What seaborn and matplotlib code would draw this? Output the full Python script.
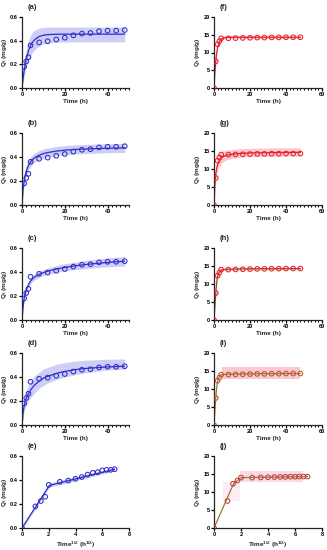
import numpy as np
import pandas as pd
import seaborn as sns
import matplotlib
matplotlib.use("Agg")
import matplotlib.pyplot as plt
from matplotlib.ticker import MultipleLocator

# ---------------- data ----------------
time_h = [0, 1, 2, 3, 4, 8, 12, 16, 20, 24, 28, 32, 36, 40, 44, 48]
sqrt_time = [0, 1.0, 1.41, 1.73, 2.0, 2.83, 3.46, 4.0, 4.47, 4.90, 5.29, 5.66, 6.0, 6.32, 6.63, 6.93]
q_blue = [0, 0.18, 0.225, 0.26, 0.36, 0.385, 0.395, 0.41, 0.425, 0.445, 0.46, 0.465, 0.48, 0.485, 0.485, 0.49]
q_red = [0, 7.5, 12.3, 13.2, 14.0, 14.0, 14.05, 14.1, 14.15, 14.2, 14.2, 14.25, 14.25, 14.3, 14.3, 14.3]

fit_t = [0, 0.5, 1, 1.5, 2, 3, 4, 5, 6, 8, 10, 12, 16, 20, 25, 30, 40, 48]

fit_a = [0, 0.080, 0.146, 0.201, 0.246, 0.314, 0.359, 0.389, 0.410, 0.435, 0.446, 0.451, 0.454, 0.455, 0.455, 0.455, 0.455, 0.455]
up_a = [0, 0.114, 0.203, 0.272, 0.325, 0.400, 0.445, 0.473, 0.489, 0.506, 0.512, 0.514, 0.515, 0.515, 0.515, 0.515, 0.515, 0.515]
lo_a = [0, 0.054, 0.101, 0.141, 0.176, 0.233, 0.273, 0.303, 0.325, 0.355, 0.371, 0.380, 0.387, 0.389, 0.390, 0.390, 0.390, 0.390]

fit_b = [0, 0.126, 0.200, 0.249, 0.284, 0.330, 0.360, 0.380, 0.395, 0.415, 0.428, 0.437, 0.449, 0.457, 0.463, 0.467, 0.473, 0.476]
up_b = [0, 0.150, 0.235, 0.290, 0.325, 0.370, 0.400, 0.420, 0.433, 0.453, 0.466, 0.475, 0.487, 0.495, 0.501, 0.505, 0.511, 0.514]
lo_b = [0, 0.100, 0.165, 0.210, 0.243, 0.290, 0.320, 0.340, 0.357, 0.377, 0.390, 0.399, 0.411, 0.419, 0.425, 0.429, 0.435, 0.438]

fit_c = [0, 0.110, 0.180, 0.220, 0.250, 0.295, 0.325, 0.345, 0.360, 0.380, 0.395, 0.407, 0.425, 0.438, 0.452, 0.463, 0.480, 0.490]
up_c = [0, 0.130, 0.205, 0.245, 0.275, 0.320, 0.350, 0.370, 0.385, 0.405, 0.420, 0.433, 0.453, 0.468, 0.484, 0.497, 0.517, 0.530]
lo_c = [0, 0.090, 0.155, 0.195, 0.225, 0.270, 0.300, 0.320, 0.335, 0.355, 0.370, 0.381, 0.397, 0.408, 0.420, 0.429, 0.443, 0.450]

fit_d = [0, 0.100, 0.160, 0.200, 0.225, 0.260, 0.290, 0.315, 0.335, 0.365, 0.390, 0.405, 0.430, 0.447, 0.462, 0.472, 0.484, 0.490]
up_d = [0, 0.140, 0.210, 0.260, 0.290, 0.330, 0.365, 0.390, 0.410, 0.440, 0.465, 0.480, 0.505, 0.520, 0.533, 0.540, 0.548, 0.550]
lo_d = [0, 0.060, 0.110, 0.145, 0.165, 0.200, 0.225, 0.250, 0.270, 0.305, 0.330, 0.350, 0.378, 0.400, 0.420, 0.435, 0.460, 0.465]

fit_e_x = [0, 2.05, 6.93]
fit_e_y = [0, 0.355, 0.49]
up_e = [0.015, 0.375, 0.505]
lo_e = [-0.015, 0.340, 0.475]

fit_f = [0, 4.5, 7.6, 9.9, 11.5, 13.1, 13.8, 14.05, 14.2, 14.28, 14.3, 14.3, 14.3, 14.3, 14.3, 14.3, 14.3, 14.3]
up_f = [0, 4.9, 8.1, 10.4, 12.0, 13.5, 14.2, 14.45, 14.55, 14.6, 14.6, 14.6, 14.6, 14.6, 14.6, 14.6, 14.6, 14.6]
lo_f = [0, 4.1, 7.1, 9.4, 11.0, 12.7, 13.4, 13.65, 13.85, 13.95, 14.0, 14.0, 14.0, 14.0, 14.0, 14.0, 14.0, 14.0]

fit_g = [0, 6.0, 8.7, 10.2, 11.2, 12.4, 13.0, 13.4, 13.65, 13.95, 14.1, 14.2, 14.35, 14.45, 14.5, 14.55, 14.6, 14.62]
up_g = [0, 8.0, 11.0, 12.5, 13.3, 14.3, 14.8, 15.0, 15.15, 15.3, 15.45, 15.55, 15.7, 15.75, 15.8, 15.85, 15.9, 15.9]
lo_g = [0, 4.2, 6.6, 8.2, 9.3, 10.7, 11.5, 12.0, 12.3, 12.7, 12.95, 13.1, 13.3, 13.4, 13.45, 13.5, 13.55, 13.6]

fit_h = [0, 4.0, 7.5, 10.5, 12.3, 13.4, 13.9, 14.0, 14.05, 14.1, 14.1, 14.15, 14.2, 14.2, 14.25, 14.25, 14.3, 14.3]
up_h = [0, 4.3, 7.9, 10.9, 12.7, 13.7, 14.2, 14.3, 14.35, 14.4, 14.4, 14.45, 14.5, 14.5, 14.55, 14.55, 14.6, 14.6]
lo_h = [0, 3.7, 7.1, 10.1, 11.9, 13.1, 13.6, 13.7, 13.75, 13.8, 13.8, 13.85, 13.9, 13.9, 13.95, 13.95, 14.0, 14.0]

fit_i = [0, 4.0, 7.5, 10.4, 12.2, 13.5, 13.95, 14.05, 14.1, 14.1, 14.15, 14.15, 14.2, 14.2, 14.25, 14.25, 14.3, 14.3]
band_i_t = [4.5, 48]
up_i = [16.0, 16.0]
lo_i = [12.9, 12.9]

fit_j_x = [0, 1.45, 2.0, 6.93]
fit_j_y = [0, 12.3, 14.0, 14.3]
band_j1_x = [0.65, 1.9]
band_j1_up = [12.9, 12.9]
band_j1_lo = [7.4, 7.4]
band_j2_x = [1.9, 6.6]
band_j2_up = [15.9, 15.9]
band_j2_lo = [12.9, 12.9]

labels_left = ["(a)", "(b)", "(c)", "(d)", "(e)"]
labels_right = ["(f)", "(g)", "(h)", "(i)", "(j)"]

# ---------------- style ----------------
sns.set_theme(style="ticks")
plt.rcParams["font.family"] = ["Liberation Sans", "DejaVu Sans"]
plt.rcParams["font.weight"] = "bold"
plt.rcParams["mathtext.default"] = "regular"
plt.rcParams["axes.linewidth"] = 0.9

W, H = 327, 550
fig = plt.figure(figsize=(W / 100, H / 100), dpi=100)

rows = [(17, 88), (133, 205), (248, 320), (353, 425), (456, 528)]
BLUE = "#2e2ec8"
BLUE_FILL = "#8a8ae8"
RED = "#e8202a"
PINK = "#f07a8a"
BROWN = "#9a4a22"
OLIVE = "#9a7a3a"


def make_ax(x0, x1, ytop, ybot):
    return fig.add_axes([x0 / W, 1 - ybot / H, (x1 - x0) / W, (ybot - ytop) / H])


def style_ax(ax, xmax, xmaj, xmin, ymax, ymaj, xlabel, label):
    ax.set_xlim(0, xmax)
    ax.set_ylim(0, ymax)
    ax.xaxis.set_major_locator(MultipleLocator(xmaj))
    if xmin:
        ax.xaxis.set_minor_locator(MultipleLocator(xmin))
    ax.yaxis.set_major_locator(MultipleLocator(ymaj))
    sns.despine(ax=ax)
    ax.tick_params(axis="both", which="major", length=2.2, width=0.9, labelsize=4.1, pad=0.8, colors="black")
    ax.tick_params(axis="x", which="minor", length=1.5, width=0.7, colors="black")
    for lab in ax.get_xticklabels() + ax.get_yticklabels():
        lab.set_fontweight("bold")
    ax.set_xlabel(xlabel, fontsize=4.6, fontweight="bold", labelpad=1.5)
    ax.set_ylabel("Q$_t$ (mg/g)", fontsize=4.6, fontweight="bold", labelpad=0.8)
    ax.text(0.05, 1.09, label, transform=ax.transAxes, fontsize=5.5, fontweight="bold",
            ha="left", va="bottom")
    ax.set_facecolor("none")
    ax.grid(False)


def draw(ax, fx, fy, px, py, lc, mc):
    sns.lineplot(x=fx, y=fy, ax=ax, color=lc, linewidth=0.9, sort=False, estimator=None)
    sns.scatterplot(x=px, y=py, ax=ax, marker="o", s=11, facecolors="none",
                    edgecolor=mc, linewidth=0.75, zorder=5)


left_fits = [(fit_a, up_a, lo_a), (fit_b, up_b, lo_b), (fit_c, up_c, lo_c), (fit_d, up_d, lo_d)]
for i, (ytop, ybot) in enumerate(rows):
    ax = make_ax(22, 129, ytop, ybot)
    if i < 4:
        fy, up, lo = left_fits[i]
        ax.fill_between(fit_t, lo, up, color=BLUE_FILL, alpha=0.42, linewidth=0, zorder=0)
        draw(ax, fit_t, fy, time_h[1:], q_blue[1:], BLUE, BLUE)
        style_ax(ax, 50, 20, 2, 0.6, 0.2, "Time (h)", labels_left[i])
    else:
        ax.fill_between(fit_e_x, lo_e, up_e, color=BLUE_FILL, alpha=0.42, linewidth=0, zorder=0)
        draw(ax, fit_e_x, fit_e_y, sqrt_time, q_blue, BLUE, BLUE)
        style_ax(ax, 8, 2, None, 0.6, 0.2, "Time$^{1/2}$ (h$^{1/2}$)", labels_left[i])

right_specs = [
    (fit_t, up_f, lo_f, fit_t, fit_f, RED, RED),
    (fit_t, up_g, lo_g, fit_t, fit_g, RED, RED),
    (fit_t, up_h, lo_h, fit_t, fit_h, BROWN, RED),
    (band_i_t, up_i, lo_i, fit_t, fit_i, OLIVE, "#c0502a"),
]
for i, (ytop, ybot) in enumerate(rows):
    ax = make_ax(214, 322, ytop, ybot)
    if i < 4:
        bx, bu, bl, fx, fy, lc, mc = right_specs[i]
        ax.fill_between(bx, bl, bu, color=PINK, alpha=0.4, linewidth=0, zorder=0)
        draw(ax, fx, fy, time_h, q_red, lc, mc)
        style_ax(ax, 60, 20, 2, 20, 5, "Time (h)", labels_right[i])
    else:
        ax.fill_between(band_j1_x, band_j1_lo, band_j1_up, color="#f0a0e0", alpha=0.2, linewidth=0, zorder=0)
        ax.fill_between(band_j2_x, band_j2_lo, band_j2_up, color="#f080c0", alpha=0.3, linewidth=0, zorder=0)
        draw(ax, fit_j_x, fit_j_y, sqrt_time, q_red, OLIVE, "#c04030")
        style_ax(ax, 8, 2, None, 20, 5, "Time$^{1/2}$ (h$^{1/2}$)", labels_right[i])

fig.savefig("out.png", dpi=100, facecolor="white")
